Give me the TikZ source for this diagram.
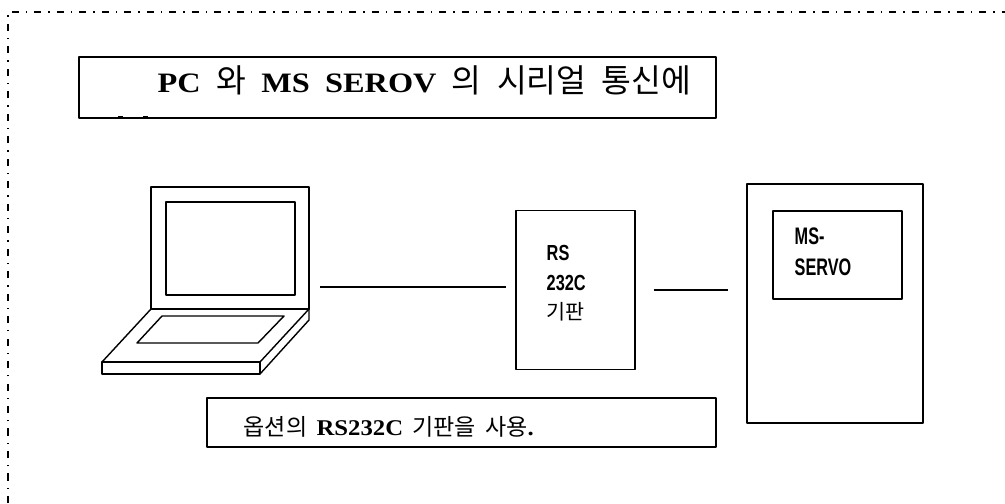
\documentclass[tikz,border=0pt]{standalone}
\usepackage{fontspec}
\setmainfont{Liberation Serif}
\newfontfamily\kr[Scale=1.28]{Noto Sans CJK KR}
\newfontfamily\headfont[FakeStretch=1.15,WordSpace=1.9]{Liberation Serif}
\newfontfamily\notefont[FakeStretch=1.1,WordSpace=1.5]{Liberation Serif}
\newfontfamily\gothic[FakeStretch=0.75]{Liberation Sans}
\newfontfamily\servofont[FakeStretch=0.68]{Liberation Sans}
% Hangul words at a fixed size inside Latin text
\newcommand{\hangul}[2][14.2]{{\kr\mdseries\fontsize{#1}{#1}\selectfont #2}}
\usetikzlibrary{positioning}

\begin{document}
\begin{tikzpicture}[x=0.25mm,y=-0.25mm,line width=1pt,line join=round,
  plainbox/.style={draw,rectangle,inner sep=0pt},
  wire/.style={line width=1pt}]
  \useasboundingbox (0,0) rectangle (1005,503);
  % Outer frame, dash-dot
  \draw[line width=0.8pt,dash pattern=on 5pt off 5pt on 1pt off 5pt] (8,503) -- (8,12) -- (1005,12);
  % Title
  \node[plainbox,minimum width=159.25mm,minimum height=15.25mm] (titlebox) at (397.5,87.5) {};
  \node[anchor=base west,inner sep=0pt,font=\headfont\bfseries\fontsize{20}{22}\selectfont] (titletext) at (157,92)
    {PC \hangul[18]{와} MS SEROV \hangul[18]{의} \hangul[18]{시리얼} \hangul[18]{통신에}};
  \draw[line width=0.6pt] (118,116) -- (123,116) (143,116) -- (148,116);
  % Notebook PC
  \draw (151,187) rectangle (309,309);
  \draw (166,202) rectangle (295,295);
  \draw (151,309) -- (309,309) -- (260,362) -- (102,362) -- cycle;
  \draw (102,362) rectangle (260,374);
  \draw (260,374) -- (309,320) -- (309,309);
  \draw (162,316) -- (284,316) -- (258,343) -- (137,343) -- cycle;
  \coordinate (pcport) at (320,287);
  % RS232C board
  \node[plainbox,minimum width=29.75mm,minimum height=39.75mm] (rsboard) at (575.5,290) {};
  \node[anchor=north west,inner sep=0pt,align=left,font=\gothic\bfseries\fontsize{15.5}{20.8}\selectfont] (rslabel) at (546,245)
    {RS\\232C\\\hangul[11.5]{기판}};
  % Servo drive
  \node[plainbox,minimum width=44mm,minimum height=59.75mm] (servo) at (835,303.5) {};
  \node[plainbox,minimum width=32.25mm,minimum height=22mm] (servopanel) at (837.5,255) {};
  \node[anchor=north west,inner sep=0pt,align=left,font=\servofont\bfseries\fontsize{17}{22}\selectfont] (servolabel) at (794,227)
    {MS-\\SERVO};
  % Cables
  \draw[wire,shorten >=2.25mm] (pcport) -- (pcport -| rsboard.west);
  \draw[wire,shorten <=4.5mm,shorten >=4.5mm] (rsboard.east) -- (rsboard.east -| servo.west);
  % Note
  \node[plainbox,minimum width=127.25mm,minimum height=12.25mm] (notebox) at (461.5,422.5) {};
  \node[anchor=base west,inner sep=0pt,font=\notefont\bfseries\fontsize{16}{18}\selectfont] (notetext) at (243,435)
    {\hangul[12.8]{옵션의} RS232C \hangul[12.8]{기판을} \hangul[12.8]{사용}.};
\end{tikzpicture}
\end{document}
